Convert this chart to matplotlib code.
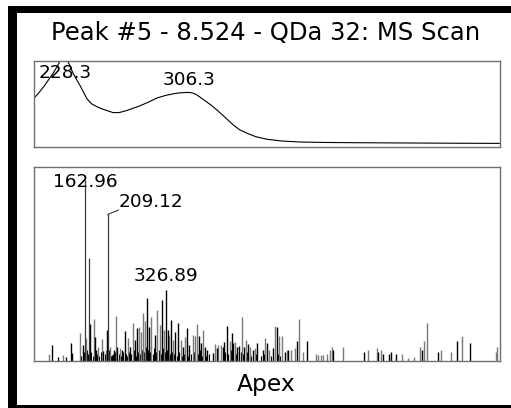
import matplotlib
matplotlib.use("Agg")
import matplotlib.pyplot as plt
from matplotlib.patches import Rectangle

plt.rcParams['font.family'] = ['DejaVu Sans']

title = "Peak #5 - 8.524 - QDa 32: MS Scan"
footer = "Apex"

# UV spectrum (nm, absorbance, arbitrary units)
uv_nm = [210.6, 213, 216, 219, 222, 224.5, 226.5, 228.3, 230, 232, 234, 236, 238.5,
         241, 243, 246, 249, 252, 256, 259.2, 263, 267, 271.6, 276, 281, 286.5, 292,
         297, 301, 305.8, 308.3, 311, 313.3, 317, 320, 323.9, 328, 333.8, 338, 342.6,
         348, 355, 364, 375.5, 390, 410, 437.8, 470, 500]
uv_abs = [0.58, 0.63, 0.70, 0.78, 0.86, 0.94, 1.01, 1.05, 1.03, 0.96, 0.87, 0.80, 0.72,
          0.63, 0.56, 0.50, 0.47, 0.445, 0.42, 0.40, 0.40, 0.42, 0.45, 0.48, 0.52, 0.57,
          0.60, 0.62, 0.63, 0.635, 0.63, 0.61, 0.58, 0.53, 0.49, 0.43, 0.36, 0.26, 0.20,
          0.16, 0.12, 0.09, 0.07, 0.058, 0.053, 0.05, 0.047, 0.044, 0.042]
uv_peaks = ["228.3", "306.3"]
uv_peak_x = [229.5, 306.3]
uv_peak_y = [0.80, 0.72]

# MS spectrum (m/z, relative intensity %)
ms_dark_mz = [162.96, 171.3, 209.12]
ms_dark_int = [100, 56.7, 81]

ms_black_mz = [97.0, 109.2, 124.8, 134.3, 137.5, 159.8, 173.3, 182.9, 184.9, 200.3,
               207.1, 217.3, 221.9, 228.6, 238.7, 243.6, 254.9, 264.4, 269.1, 288.1,
               292.8, 304.9, 319.1, 326.89, 331.8, 337.9, 346.0, 351.5, 361.0, 369.7,
               374.3, 393.4, 397.4, 405.5, 410.8, 422.9, 429.8, 441.9, 444.6, 451.2,
               460.1, 463.4, 471.5, 475.5, 485.0, 493.7, 503.9, 512.0, 524.1, 532.2,
               544.4, 551.3, 568.0, 574.7, 591.7, 613.2, 665.8, 728.5, 756.9, 765.8,
               779.1, 783.2, 792.7, 845.9, 878.3, 916.8, 943.1]
ms_black_int = [8.8, 2.4, 2.4, 9.8, 4.2, 8.8, 20.4, 13.4, 6.1, 5.5,
                17.3, 3.1, 6.1, 7.9, 6.1, 16.8, 7.9, 11.6, 18.0, 35.0,
                19.0, 14.4, 33.7, 39.2, 17.1, 22.7, 16.2, 21.2, 7.9, 18.0,
                8.8, 13.8, 9.8, 7.9, 6.1, 4.2, 7.0, 7.9, 10.7, 19.3,
                15.7, 9.8, 7.6, 8.3, 7.9, 9.4, 6.1, 9.8, 6.1, 9.8,
                7.0, 18.6, 5, 6, 11, 11, 6, 5, 5, 4,
                4, 5, 4, 6, 5, 11, 10]

ms_gray_mz = [89.8, 118.1, 153.1, 165.9, 181.4, 189.5, 197.6, 205.1, 213.2, 225.4,
              234.1, 250.3, 259.8, 273.1, 277.2, 281.2, 284.7, 297.4, 309.6, 315.0,
              323.1, 333.8, 341.9, 356.9, 365.6, 381.2, 385.3, 389.3, 401.5, 427.0,
              433.0, 437.9, 456.7, 466.8, 480.4, 489.1, 497.2, 507.3, 528.2, 535.6,
              547.8, 555.3, 561.3, 571.5, 579.6, 588.9, 596.4, 605.1, 630.2, 634.8,
              640.3, 645.6, 652.4, 659.1, 663.8, 684.8, 735.4, 753.6, 762.3, 804.3,
              816.4, 829.7, 841.3, 850.0, 854.8, 883.2, 903.4, 925.7, 994.5, 997.7]
ms_gray_int = [3.7, 3.1, 15.7, 12.5, 23.0, 7.9, 12.0, 6.1, 7.9, 24.9,
               7.0, 12.5, 20.8, 18.6, 16.2, 26.3, 22.3, 24.5, 28.2, 19.9,
               17.1, 14.4, 11.6, 11.6, 13.0, 14.4, 13.8, 20.4, 17.1, 9.4,
               8.8, 8.8, 11.0, 10.7, 24.5, 11.6, 7.9, 7.0, 12.5, 6.1,
               19.3, 13.8, 14, 6, 6, 7, 23, 5, 4, 3.5,
               3.5, 3.5, 4, 6, 8, 8, 6, 7, 6, 4,
               1.5, 2, 8, 11, 21, 6, 5, 14, 5, 8]

# low-level noise under the dense region
ms_base_mz = [156, 161, 167, 169, 176, 179, 187, 192, 195, 203, 211, 215, 219, 223,
              231, 236, 241, 246, 248, 252, 257, 262, 266, 271, 275, 279, 283, 286,
              290, 295, 300, 302, 307, 312, 317, 321, 325, 329, 335, 340, 344, 349,
              354, 359, 363, 372, 378, 383, 391, 395, 399, 408, 414, 447, 453, 458,
              469, 478, 483, 491, 500, 510, 520, 526, 539, 553, 558]
ms_base_int = [3, 5, 6, 4, 5, 3, 4, 3, 5, 4, 6, 3, 4, 5,
               4, 3, 5, 4, 3, 5, 4, 6, 3, 5, 4, 6, 5, 8,
               6, 5, 4, 7, 5, 6, 4, 7, 5, 6, 4, 5, 4, 3,
               5, 3, 4, 3, 4, 5, 4, 6, 3, 3, 4, 5, 4, 6,
               4, 5, 4, 5, 3, 4, 3, 4, 3, 4, 3]

ms_labels = ["162.96", "209.12", "326.89"]
ms_label_x = [162.96, 232.0, 326.89]
ms_label_y = [96.1, 85.1, 44.2]

fig = plt.figure(figsize=(5.11, 4.08), dpi=100)

# black frame
frame_kw = dict(transform=fig.transFigure, facecolor='black', edgecolor='none')
fig.add_artist(Rectangle((8 / 511, 0), 9 / 511, 402 / 408, **frame_kw))
fig.add_artist(Rectangle((8 / 511, 1 - 13 / 408), 503 / 511, 7 / 408, **frame_kw))
fig.add_artist(Rectangle((8 / 511, 0), 503 / 511, 3.5 / 408, **frame_kw))

fig.text(266 / 511, 1 - 40 / 408, title, ha='center', va='baseline', fontsize=17.5)
fig.text(266 / 511, 1 - 391 / 408, footer, ha='center', va='baseline', fontsize=16.8)

edge = '#707070'

ax1 = fig.add_axes([34 / 511, 1 - 147 / 408, 466 / 511, 86 / 408])
ax1.plot(uv_nm, uv_abs, color='black', lw=0.8)
ax1.set_xlim(210, 500)
ax1.set_ylim(0, 1.0)
for lab, x, y in zip(uv_peaks, uv_peak_x, uv_peak_y):
    ax1.text(x, y, lab, ha='center', va='baseline', fontsize=13.3)

ax2 = fig.add_axes([34 / 511, 1 - 361 / 408, 466 / 511, 194 / 408])
ax2.vlines(ms_base_mz, 0, ms_base_int, color='black', lw=0.8)
ax2.vlines(ms_gray_mz, 0, ms_gray_int, color='#7a7a7a', lw=1.0)
ax2.vlines(ms_black_mz, 0, ms_black_int, color='black', lw=1.0)
ax2.vlines(ms_dark_mz, 0, ms_dark_int, color='#3a3a3a', lw=0.9)
ax2.plot([209.12, ms_label_x[1] - 1], [81, 83.4], color='#3a3a3a', lw=0.8)
ax2.set_xlim(60, 1003)
ax2.set_ylim(0, 107.2)
ax2.text(ms_label_x[0], ms_label_y[0], ms_labels[0], ha='center', va='baseline', fontsize=13.3)
ax2.text(ms_label_x[1], ms_label_y[1], ms_labels[1], ha='left', va='baseline', fontsize=13.3)
ax2.text(ms_label_x[2], ms_label_y[2], ms_labels[2], ha='center', va='baseline', fontsize=13.3)

for ax in (ax1, ax2):
    ax.set_xticks([])
    ax.set_yticks([])
    for s in ax.spines.values():
        s.set_color(edge)
        s.set_linewidth(1.0)

fig.savefig("out.png", dpi=100)
